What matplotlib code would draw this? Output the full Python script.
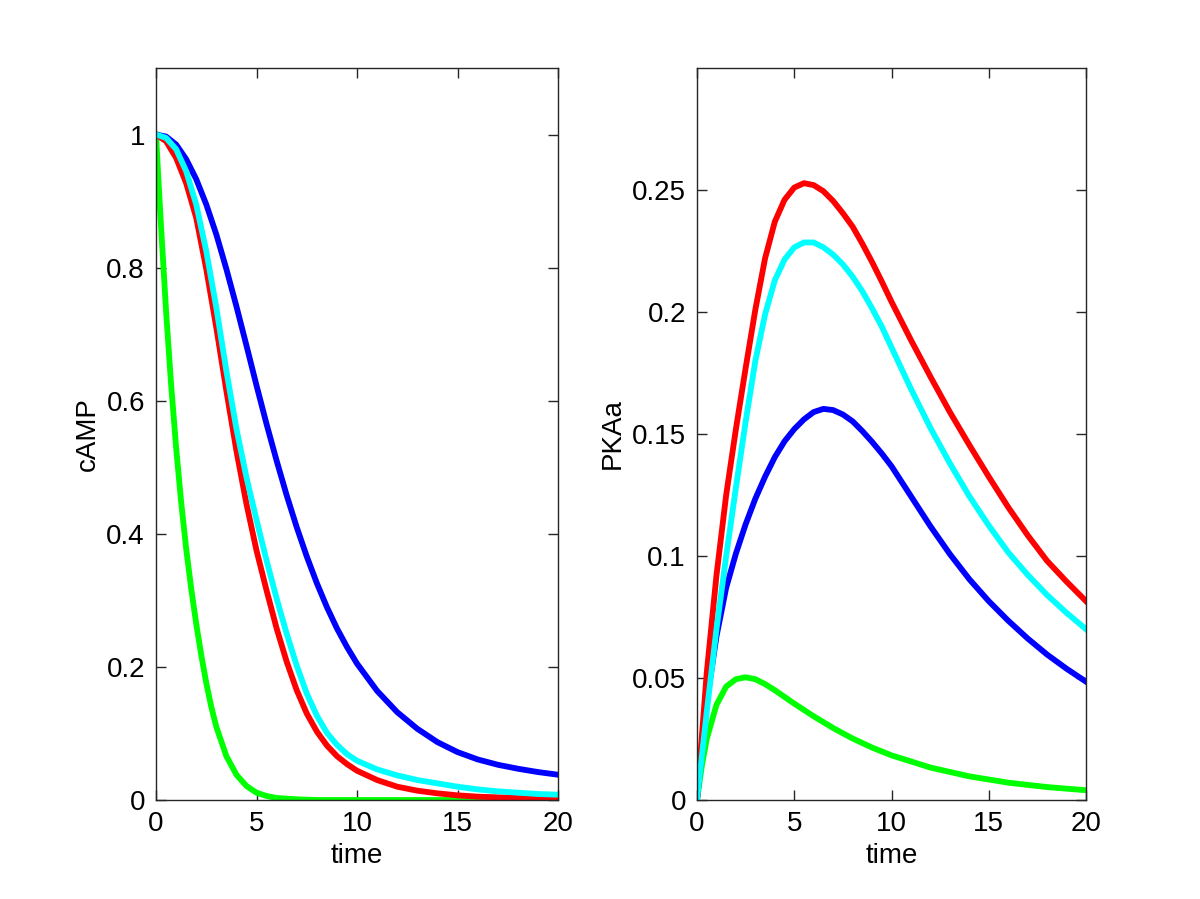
import numpy as np
import matplotlib as mpl
mpl.use("Agg")
import matplotlib.pyplot as plt

plt.rcParams["font.family"] = ["Liberation Sans", "DejaVu Sans"]
FS = 20

# ---- cAMP (left panel) ----
t_camp = [0, 0.5, 1, 1.5, 2, 2.5, 3, 3.5, 4, 4.5, 5, 5.5, 6, 6.5, 7, 7.5, 8, 8.5, 9, 9.5, 10,
          11, 12, 13, 14, 15, 16, 17, 18, 19, 20]
camp_blue = [1.0, 0.997, 0.985, 0.963, 0.933, 0.895, 0.850, 0.798, 0.742, 0.683, 0.623, 0.565,
             0.510, 0.458, 0.410, 0.366, 0.326, 0.290, 0.258, 0.230, 0.205, 0.164, 0.132,
             0.107, 0.087, 0.072, 0.061, 0.053, 0.047, 0.042, 0.038]
camp_red = [1.0, 0.99, 0.965, 0.927, 0.875, 0.798, 0.71, 0.615, 0.525, 0.445, 0.375, 0.315,
            0.258, 0.208, 0.165, 0.130, 0.103, 0.082, 0.066, 0.054, 0.044, 0.030, 0.020, 0.014,
            0.010, 0.007, 0.005, 0.004, 0.003, 0.002, 0.002]
camp_cyan = [1.0, 0.995, 0.978, 0.945, 0.895, 0.825, 0.74, 0.645, 0.558, 0.485, 0.421, 0.36,
             0.303, 0.25, 0.202, 0.16, 0.127, 0.101, 0.083, 0.069, 0.059, 0.046, 0.037, 0.030,
             0.025, 0.020, 0.016, 0.013, 0.011, 0.009, 0.008]

t_camp_green = [0, 0.125, 0.25, 0.5, 0.75, 1, 1.25, 1.5, 1.75, 2, 2.25, 2.5, 2.75, 3, 3.5, 4,
                4.5, 5, 5.5, 6, 7, 8, 10, 12, 14, 16, 18, 20]
camp_green = [1.0, 0.93, 0.862, 0.735, 0.625, 0.53, 0.448, 0.378, 0.318, 0.265, 0.218, 0.176,
              0.140, 0.110, 0.066, 0.038, 0.021, 0.011, 0.006, 0.003, 0.001, 0, 0, 0, 0, 0, 0,
              0]

# ---- PKAa (right panel) ----
t_pka = [0, 0.5, 1, 1.5, 2, 2.5, 3, 3.5, 4, 4.5, 5, 5.5, 6, 6.5, 7, 7.5, 8, 8.5, 9, 9.5, 10,
         11, 12, 13, 14, 15, 16, 17, 18, 19, 20]
pka_red = [0, 0.052, 0.092, 0.125, 0.152, 0.177, 0.201, 0.222, 0.237, 0.246, 0.251, 0.2528,
           0.252, 0.2495, 0.2455, 0.2405, 0.235, 0.228, 0.2205, 0.2125, 0.2042, 0.1885, 0.1735,
           0.159, 0.1455, 0.1325, 0.12, 0.1085, 0.098, 0.0895, 0.0815]
pka_cyan = [0, 0.036, 0.07, 0.10, 0.128, 0.155, 0.18, 0.199, 0.213, 0.2215, 0.2265, 0.2285,
            0.2285, 0.2265, 0.2235, 0.2195, 0.2145, 0.2085, 0.2015, 0.194, 0.1855, 0.1685,
            0.1525, 0.138, 0.1245, 0.1125, 0.1015, 0.0923, 0.0840, 0.0767, 0.070]
pka_blue = [0, 0.04, 0.067, 0.087, 0.101, 0.113, 0.1235, 0.1325, 0.1405, 0.147, 0.152, 0.156,
            0.159, 0.1603, 0.1598, 0.158, 0.1552, 0.1512, 0.1468, 0.1420, 0.1368, 0.1245,
            0.1122, 0.1008, 0.0905, 0.0815, 0.0735, 0.0662, 0.0596, 0.0538, 0.0485]

t_pka_green = [0, 0.25, 0.5, 1, 1.5, 2, 2.5, 3, 3.5, 4, 5, 6, 7, 8, 9, 10, 12, 14, 16, 18, 20]
pka_green = [0, 0.014, 0.025, 0.039, 0.0465, 0.0495, 0.0503, 0.0495, 0.0475, 0.045, 0.0395,
             0.0343, 0.0295, 0.0252, 0.0215, 0.0183, 0.0133, 0.0097, 0.0071, 0.0053, 0.004]

LW = 4.2
fig = plt.figure(figsize=(12, 8.99), dpi=100)
H = 899.0
axL = fig.add_axes([156 / 1200, 99 / H, 402 / 1200, 732 / H])
axR = fig.add_axes([697 / 1200, 99 / H, 389 / 1200, 732 / H])

axL.plot(t_camp_green, camp_green, color="#00ff00", lw=LW)
axL.plot(t_camp, camp_blue, color="#0000ff", lw=LW)
axL.plot(t_camp, camp_red, color="#ff0000", lw=LW)
axL.plot(t_camp, camp_cyan, color="#00ffff", lw=LW)

axR.plot(t_pka_green, pka_green, color="#00ff00", lw=LW)
axR.plot(t_pka, pka_blue, color="#0000ff", lw=LW)
axR.plot(t_pka, pka_red, color="#ff0000", lw=LW)
axR.plot(t_pka, pka_cyan, color="#00ffff", lw=LW)

axL.set_xlim(0, 20); axL.set_ylim(0, 1.1)
axL.set_xticks([0, 5, 10, 15, 20]); axL.set_yticks([0, 0.2, 0.4, 0.6, 0.8, 1])
axL.set_yticklabels(["0", "0.2", "0.4", "0.6", "0.8", "1"])
axL.set_ylabel("cAMP", fontsize=FS)

axR.set_xlim(0, 20); axR.set_ylim(0, 0.3)
axR.set_xticks([0, 5, 10, 15, 20]); axR.set_yticks([0, 0.05, 0.1, 0.15, 0.2, 0.25])
axR.set_yticklabels(["0", "0.05", "0.1", "0.15", "0.2", "0.25"])
axR.set_ylabel("PKAa", fontsize=FS)

for ax in (axL, axR):
    ax.set_xlabel("time", fontsize=FS, labelpad=4)
    ax.tick_params(direction="in", top=True, right=True, length=7, width=1,
                   labelsize=FS, pad=8, color="#262626")
    for s in ax.spines.values():
        s.set_color("#262626"); s.set_linewidth(1)

fig.savefig("out.png", dpi=100)
